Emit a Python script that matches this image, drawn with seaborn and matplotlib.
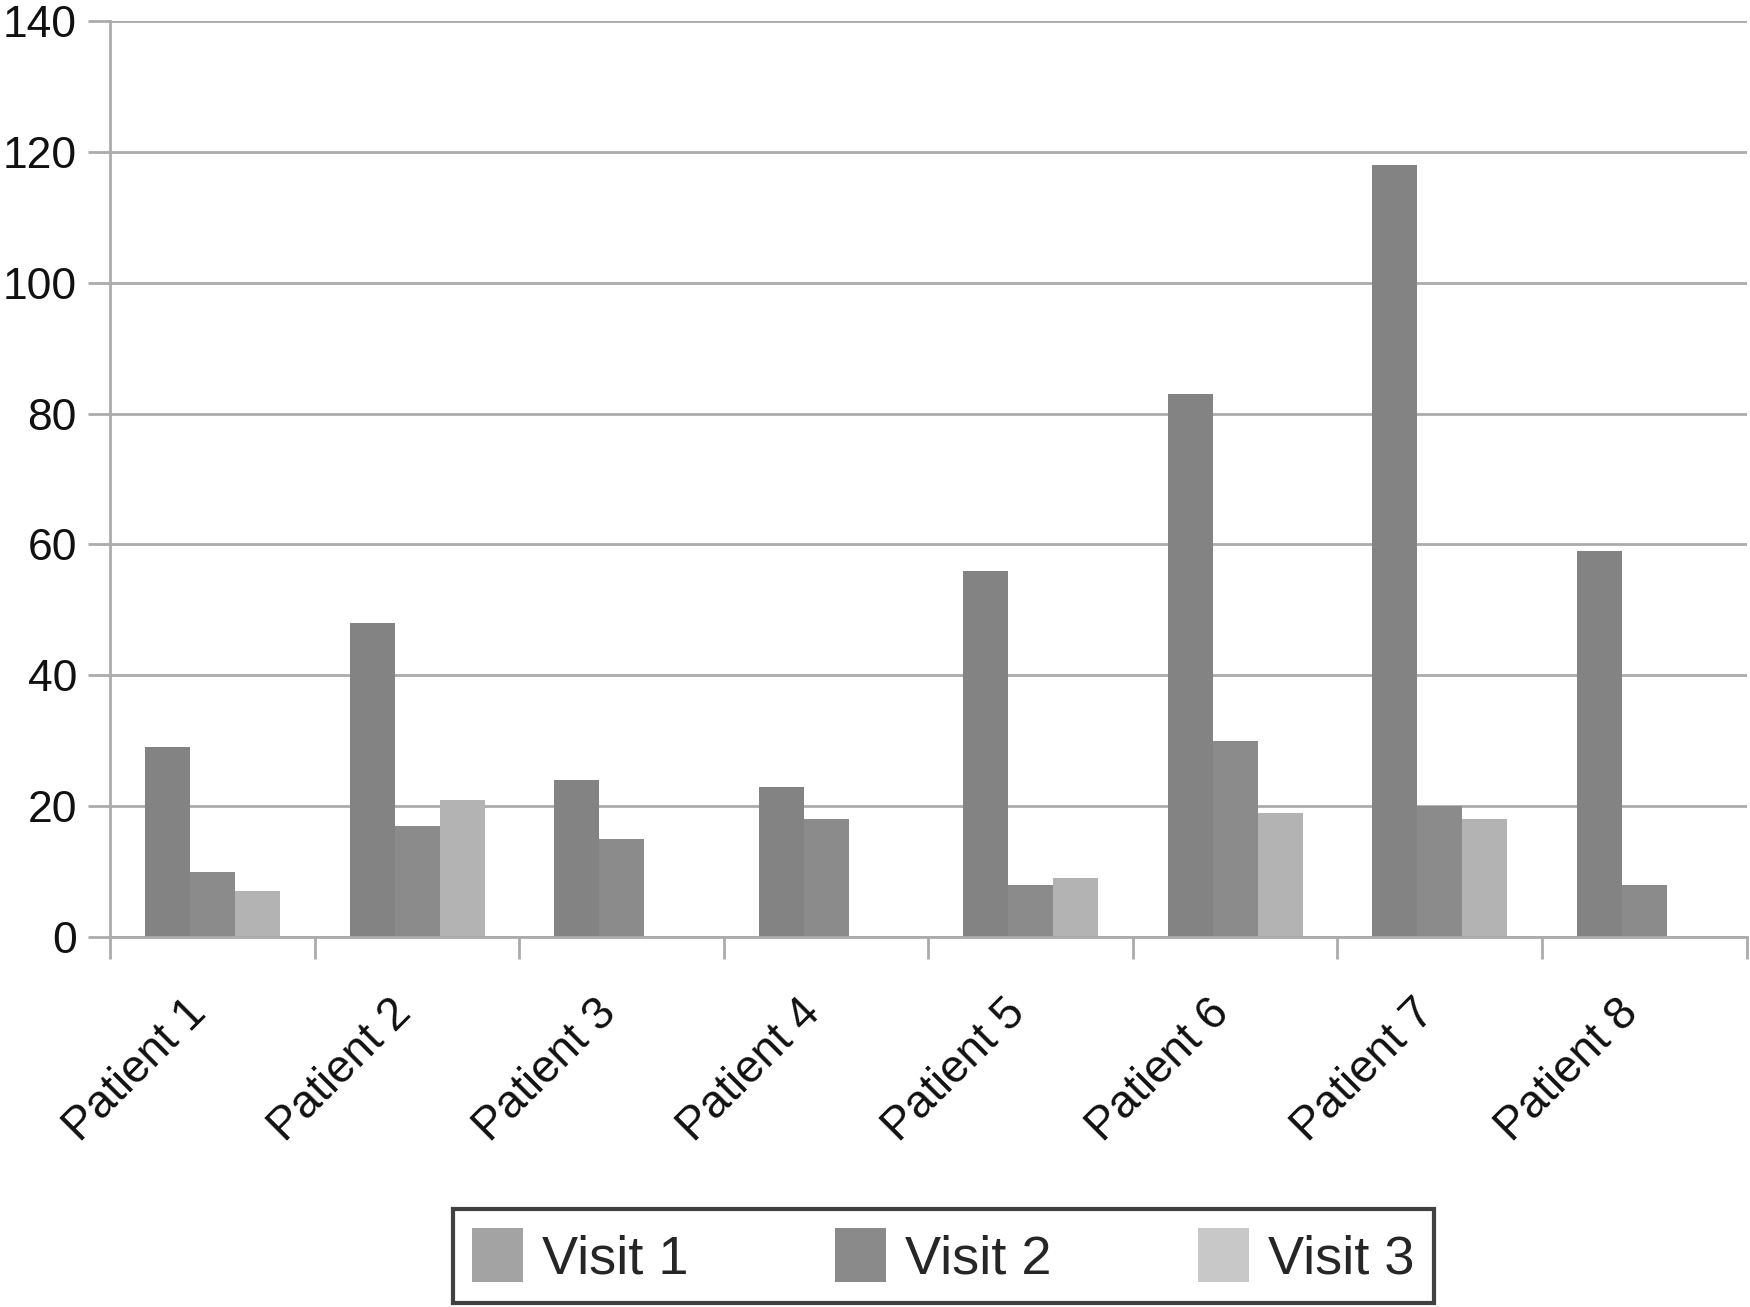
import matplotlib
matplotlib.use("Agg")
import matplotlib.pyplot as plt
import matplotlib.transforms as mtransforms
import seaborn as sns
import pandas as pd
from matplotlib.patches import Patch

patients = ["Patient 1", "Patient 2", "Patient 3", "Patient 4",
            "Patient 5", "Patient 6", "Patient 7", "Patient 8"]
visit1 = [29, 48, 24, 23, 56, 83, 118, 59]
visit2 = [10, 17, 15, 18, 8, 30, 20, 8]
visit3 = [7, 21, 0, 0, 9, 19, 18, 0]
visits = ["Visit 1", "Visit 2", "Visit 3"]
y_ticks = [0, 20, 40, 60, 80, 100, 120, 140]

bar_colors = ["#838383", "#8b8b8b", "#b3b3b3"]
legend_colors = ["#a3a3a3", "#8a8a8a", "#c8c8c8"]

rows = []
for p, a, b, c in zip(patients, visit1, visit2, visit3):
    rows.append({"patient": p, "visit": visits[0], "value": a})
    rows.append({"patient": p, "visit": visits[1], "value": b})
    rows.append({"patient": p, "visit": visits[2], "value": c})
df = pd.DataFrame(rows)

sns.set_theme(style="white")
plt.rcParams["font.family"] = ["Liberation Sans", "DejaVu Sans"]

fig = plt.figure(figsize=(17.5, 13.07), dpi=100)
ax = fig.add_axes([0.063, 0.283, 0.935, 0.701])

sns.barplot(data=df, x="patient", y="value", hue="visit", hue_order=visits,
            palette=bar_colors, width=0.66, ax=ax, legend=False,
            saturation=1, linewidth=0, errorbar=None)

ax.set_ylim(0, 140)
ax.set_xlim(-0.5, len(patients) - 0.5)
ax.set_yticks(y_ticks)
ax.set_yticklabels([str(v) for v in y_ticks])
ax.yaxis.grid(True, color="#ababab", linewidth=2)
ax.set_axisbelow(True)
ax.set_xlabel("")
ax.set_ylabel("")

for s in ["top", "right"]:
    ax.spines[s].set_visible(False)
ax.spines["left"].set_color("#ababab")
ax.spines["left"].set_linewidth(2)
ax.spines["bottom"].set_color("#ababab")
ax.spines["bottom"].set_linewidth(2)

ax.tick_params(axis="y", which="both", length=16, width=2, color="#ababab",
               labelsize=32, pad=8, left=True, labelcolor="#111111")

# x ticks at category boundaries (minor), labels at centers (major)
ax.set_xticks(range(len(patients)))
ax.set_xticklabels(patients, rotation=45, ha="right", rotation_mode="anchor",
                   fontsize=33, color="#111111")
ax.tick_params(axis="x", which="major", length=0, pad=14)
ax.set_xticks([i + 0.5 for i in range(-1, len(patients))], minor=True)
ax.tick_params(axis="x", which="minor", length=16, width=2, color="#ababab",
               bottom=True)
shift = mtransforms.ScaledTranslation(-0.28, -0.34, fig.dpi_scale_trans)
for lab in ax.get_xticklabels():
    lab.set_transform(lab.get_transform() + shift)

handles = [Patch(facecolor=c, edgecolor="none") for c in legend_colors]
leg = fig.legend(handles, visits, loc="lower center", bbox_to_anchor=(0.539, 0.003),
                 ncol=3, frameon=True, fancybox=False, edgecolor="#111111",
                 handlelength=0.95, handleheight=1.15,
                 handletextpad=0.35, columnspacing=2.7, borderpad=0.35,
                 borderaxespad=0,
                 prop={"family": ["Liberation Sans Narrow", "Liberation Sans", "DejaVu Sans"], "size": 39})
leg.get_frame().set_linewidth(3)

fig.savefig("out.png", dpi=100, facecolor="white")
